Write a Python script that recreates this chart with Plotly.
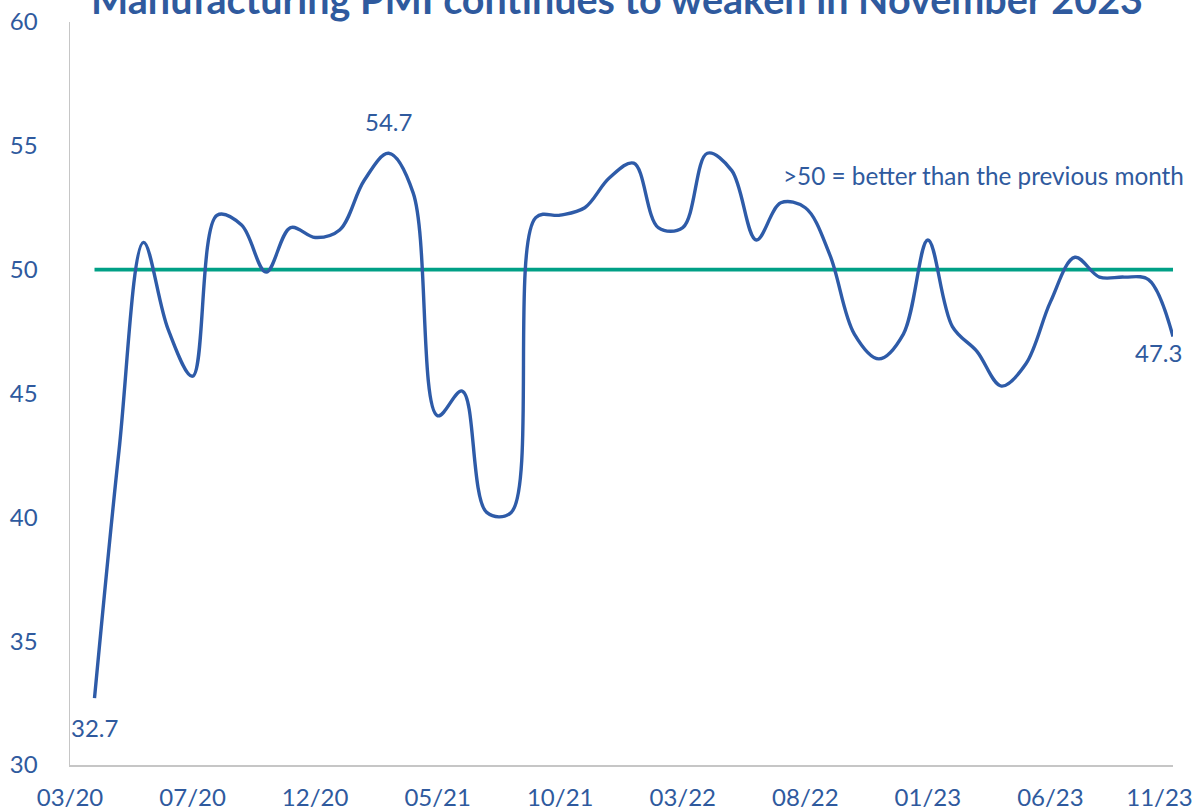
import plotly.graph_objects as go

# ---- data ----
months = [
    "03/20", "04/20", "05/20", "06/20", "07/20", "08/20", "09/20", "10/20", "11/20", "12/20",
    "01/21", "02/21", "03/21", "04/21", "05/21", "06/21", "07/21", "08/21", "09/21", "10/21",
    "11/21", "12/21", "01/22", "02/22", "03/22", "04/22", "05/22", "06/22", "07/22", "08/22",
    "09/22", "10/22", "11/22", "12/22", "01/23", "02/23", "03/23", "04/23", "05/23", "06/23",
    "07/23", "08/23", "09/23", "10/23", "11/23",
]
pmi = [
    32.7, 42.7, 51.1, 47.6, 45.7, 52.2, 51.8, 49.9, 51.7, 51.3,
    51.6, 53.6, 54.7, 53.1, 44.1, 45.1, 40.2, 40.2, 52.1, 52.2,
    52.5, 53.7, 54.3, 51.7, 51.7, 54.7, 54.0, 51.2, 52.7, 52.5,
    50.6, 47.4, 46.4, 47.4, 51.2, 47.7, 46.7, 45.3, 46.2, 48.7,
    50.5, 49.7, 49.7, 49.6, 47.3,
]
threshold = 50
tick_positions = [-1, 4, 9, 14, 19, 24, 29, 34, 39, 43.45]
tick_labels = ["03/20", "07/20", "12/20", "05/21", "10/21", "03/22", "08/22", "01/23", "06/23", "11/23"]
y_ticks = [30, 35, 40, 45, 50, 55, 60]

title_text = "Manufacturing PMI continues to weaken in November 2023"
note_text = ">50 = better than the previous month"

BLUE_LINE = "#2E5BA8"
BLUE_TEXT = "#2F5A9E"
TEAL = "#00A086"
FONT = "Lato"

x_idx = list(range(len(pmi)))

fig = go.Figure()
fig.add_trace(go.Scatter(
    x=[x_idx[0], x_idx[-1]], y=[threshold, threshold], mode="lines",
    line=dict(color=TEAL, width=3.6), hoverinfo="skip", showlegend=False,
))
fig.add_trace(go.Scatter(
    x=x_idx, y=pmi, mode="lines", customdata=months,
    line=dict(color=BLUE_LINE, width=3.4, shape="spline", smoothing=1.0),
    showlegend=False,
))

# value labels
i_max = pmi.index(max(pmi))
fig.add_annotation(x=x_idx[i_max], y=pmi[i_max], text=f"{pmi[i_max]:.1f}", showarrow=False,
                   yshift=32, font=dict(family=FONT, size=24, color=BLUE_TEXT))
fig.add_annotation(x=x_idx[0], y=pmi[0], text=f"{pmi[0]:.1f}", showarrow=False,
                   yshift=-29, font=dict(family=FONT, size=24, color=BLUE_TEXT))
fig.add_annotation(x=x_idx[-1], y=pmi[-1], text=f"{pmi[-1]:.1f}", showarrow=False,
                   xshift=-15, yshift=-16, font=dict(family=FONT, size=24, color=BLUE_TEXT))
fig.add_annotation(x=28.0, y=53.8, text=note_text, showarrow=False, xanchor="left",
                   font=dict(family=FONT, size=24.3, color=BLUE_TEXT))
# title (partly cut off at the top, as in the reference)
fig.add_annotation(xref="paper", yref="paper", x=0.4955, y=0.9973, xanchor="center", yanchor="bottom",
                   text=f"<b>{title_text}</b>", showarrow=False,
                   font=dict(family=FONT, size=39.5, color=BLUE_TEXT))

fig.update_layout(
    width=1195, height=812,
    margin=dict(l=70, r=22, t=22, b=47, autoexpand=False),
    paper_bgcolor="white", plot_bgcolor="white",
    font=dict(family=FONT, size=24, color=BLUE_TEXT),
    hovermode=False,
)
fig.update_xaxes(
    range=[-1, 44], tickmode="array", tickvals=tick_positions, ticktext=tick_labels,
    showgrid=False, zeroline=False, showline=True, linecolor="#C6C6C6", linewidth=1.5,
    ticks="", ticklabelstandoff=11, ticklabeloverflow="allow", automargin=False,
    tickfont=dict(family=FONT, size=24, color=BLUE_TEXT),
)
fig.update_yaxes(
    range=[30, 60], tickmode="array", tickvals=y_ticks,
    showgrid=False, zeroline=False, showline=True, linecolor="#C6C6C6", linewidth=1.5,
    ticks="", ticklabelstandoff=26, automargin=False,
    tickfont=dict(family=FONT, size=24, color=BLUE_TEXT),
)

fig.write_html(
    "out.html",
    config={"displayModeBar": False, "staticPlot": True},
    post_script="document.body.style.margin='0';document.body.style.overflow='hidden';",
)
